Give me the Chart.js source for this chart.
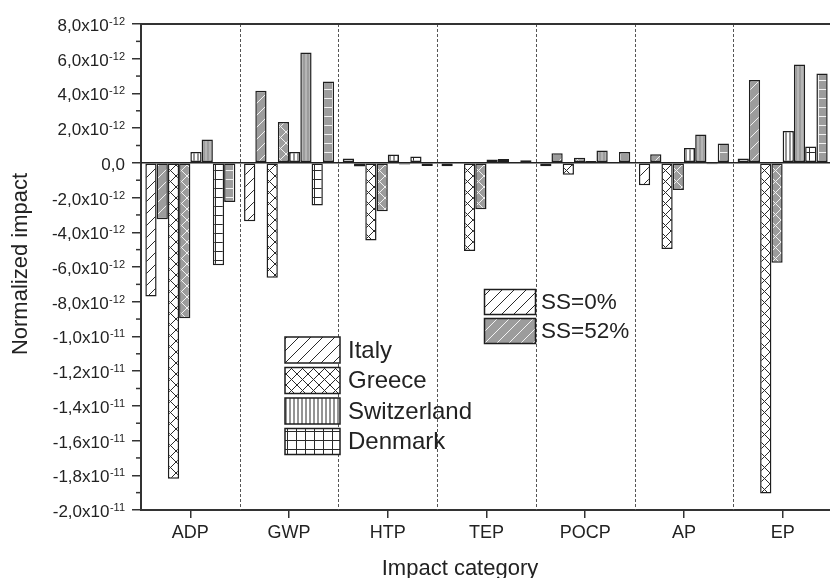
<!DOCTYPE html>
<html>
<head>
<meta charset="utf-8">
<script src="https://cdn.jsdelivr.net/npm/chart.js@4.4.1/dist/chart.umd.min.js"></script>
<style>
    html, body { margin: 0; padding: 0; background: #fff; overflow: hidden; }
    #wrap { width: 830px; height: 578px; overflow: hidden; }
</style>
</head>
<body>
<div id="wrap"><canvas id="impactChart" width="840" height="578"></canvas></div>
<script>
const categories = ['ADP', 'GWP', 'HTP', 'TEP', 'POCP', 'AP', 'EP'];
const countries = ['Italy', 'Greece', 'Switzerland', 'Denmark'];
const scenarios = ['SS=0%', 'SS=52%'];

// normalized impact per category (ADP, GWP, HTP, TEP, POCP, AP, EP)
const italySS0 = [-7.7e-12, -3.37e-12, 0.25e-12, -0.2e-12, -0.2e-12, -1.29e-12, 0.25e-12];
const italySS52 = [-3.25e-12, 4.15e-12, -0.21e-12, 0.03e-12, 0.55e-12, 0.5e-12, 4.77e-12];
const greeceSS0 = [-18.2e-12, -6.62e-12, -4.47e-12, -5.08e-12, -0.68e-12, -4.97e-12, -19.05e-12];
const greeceSS52 = [-8.95e-12, 2.36e-12, -2.79e-12, -2.68e-12, 0.3e-12, -1.56e-12, -5.75e-12];
const swissSS0 = [0.63e-12, 0.63e-12, 0.48e-12, 0.19e-12, 0.1e-12, 0.86e-12, 1.84e-12];
const swissSS52 = [1.34e-12, 6.36e-12, -0.1e-12, 0.22e-12, 0.71e-12, 1.63e-12, 5.67e-12];
const denmarkSS0 = [-5.9e-12, -2.45e-12, 0.36e-12, 0.05e-12, -0.04e-12, -0.08e-12, 0.94e-12];
const denmarkSS52 = [-2.26e-12, 4.69e-12, -0.18e-12, 0.15e-12, 0.63e-12, 1.11e-12, 5.15e-12];

const yTickValues = [-2.0e-11, -1.8e-11, -1.6e-11, -1.4e-11, -1.2e-11, -1.0e-11,
    -8e-12, -6e-12, -4e-12, -2e-12, 0, 2e-12, 4e-12, 6e-12, 8e-12];
const yTickMantissa = ['-2,0x10', '-1,8x10', '-1,6x10', '-1,4x10', '-1,2x10', '-1,0x10',
    '-8,0x10', '-6,0x10', '-4,0x10', '-2,0x10', '0,0', '2,0x10', '4,0x10', '6,0x10', '8,0x10'];
const yTickExponent = ['-11', '-11', '-11', '-11', '-11', '-11',
    '-12', '-12', '-12', '-12', '', '-12', '-12', '-12', '-12'];

const FONT = '"Liberation Sans", Arial, sans-serif';
Chart.defaults.font.family = FONT;

// hatch patterns
const TILE = { diag: 12, cross: 11, vert: 4, grid: 9 };

function makePattern(kind, bg, fg) {
    const s = TILE[kind];
    const c = document.createElement('canvas');
    c.width = s;
    c.height = s;
    const g = c.getContext('2d');
    g.fillStyle = bg;
    g.fillRect(0, 0, s, s);
    g.strokeStyle = fg;
    g.lineWidth = 1;
    g.beginPath();
    if (kind === 'diag' || kind === 'cross') {
        [-s, 0, s].forEach(k => { g.moveTo(k, s); g.lineTo(k + s, 0); });
    }
    if (kind === 'cross') {
        [-s, 0, s].forEach(k => { g.moveTo(k, 0); g.lineTo(k + s, s); });
    }
    if (kind === 'vert') {
        g.moveTo(s / 2, 0); g.lineTo(s / 2, s);
    }
    if (kind === 'grid') {
        g.moveTo(0, s - 0.5); g.lineTo(s, s - 0.5);
        g.moveTo(s - 0.5, 0); g.lineTo(s - 0.5, s);
    }
    g.stroke();
    return g.createPattern(c, 'repeat');
}

const kinds = ['diag', 'cross', 'vert', 'grid'];
const whitePatterns = kinds.map(k => makePattern(k, '#ffffff', '#2a2a2a'));
const grayPatterns = kinds.map(k => makePattern(k, '#9c9c9c', k === 'vert' ? '#cfcfcf' : '#f2f2f2'));

const seriesData = [italySS0, italySS52, greeceSS0, greeceSS52, swissSS0, swissSS52, denmarkSS0, denmarkSS52];

const datasets = seriesData.map((values, i) => {
    const country = Math.floor(i / 2);
    const ss = i % 2;
    return {
        label: countries[country] + ' ' + scenarios[ss],
        data: values,
        backgroundColor: ss === 0 ? whitePatterns[country] : grayPatterns[country],
        borderColor: '#1e1e1e',
        borderWidth: 1.5,
        borderSkipped: false
    };
});

const decorPlugin = {
    id: 'decor',
    beforeDatasetsDraw(chart) {
        const { ctx, chartArea, scales } = chart;
        const x = scales.x;
        ctx.save();
        ctx.strokeStyle = '#555';
        ctx.lineWidth = 1;
        ctx.setLineDash([3, 2]);
        for (let i = 0; i < categories.length - 1; i++) {
            const px = Math.round((x.getPixelForValue(i) + x.getPixelForValue(i + 1)) / 2) + 0.5;
            ctx.beginPath();
            ctx.moveTo(px, chartArea.top);
            ctx.lineTo(px, chartArea.bottom);
            ctx.stroke();
        }
        ctx.restore();
    },
    afterDatasetsDraw(chart) {
        const { ctx, chartArea, scales } = chart;
        const y0 = scales.y.getPixelForValue(0);
        ctx.save();
        ctx.strokeStyle = '#222';
        ctx.lineWidth = 1.5;
        ctx.beginPath();
        ctx.moveTo(chartArea.left, y0);
        ctx.lineTo(chartArea.right, y0);
        ctx.stroke();
        ctx.restore();
    },
    afterDraw(chart) {
        const { ctx, chartArea, scales } = chart;
        const y = scales.y;
        ctx.save();

        // top frame
        ctx.strokeStyle = '#333';
        ctx.lineWidth = 2;
        ctx.beginPath();
        ctx.moveTo(chartArea.left, chartArea.top);
        ctx.lineTo(chartArea.right, chartArea.top);
        ctx.stroke();

        // minor ticks
        ctx.lineWidth = 1.5;
        for (let i = 0; i < yTickValues.length - 1; i++) {
            const py = y.getPixelForValue((yTickValues[i] + yTickValues[i + 1]) / 2);
            ctx.beginPath();
            ctx.moveTo(chartArea.left - 5, py);
            ctx.lineTo(chartArea.left, py);
            ctx.stroke();
        }

        // y tick labels with superscript exponent
        ctx.fillStyle = '#222';
        ctx.textAlign = 'right';
        ctx.textBaseline = 'alphabetic';
        yTickValues.forEach((v, i) => {
            const py = y.getPixelForValue(v);
            let px = chartArea.left - 16;
            const exp = yTickExponent[i];
            if (exp) {
                ctx.font = '11px ' + FONT;
                ctx.fillText(exp, px, py + 1);
                px -= ctx.measureText(exp).width + 0.5;
            }
            ctx.font = '17px ' + FONT;
            ctx.fillText(yTickMantissa[i], px, py + 7);
        });

        // axis titles
        ctx.font = '22px ' + FONT;
        ctx.textAlign = 'center';
        ctx.fillText('Impact category', 460, 575);
        ctx.save();
        ctx.translate(27, 264);
        ctx.rotate(-Math.PI / 2);
        ctx.fillText('Normalized impact', 0, 0);
        ctx.restore();

        // country legend
        ctx.lineWidth = 1.5;
        ctx.strokeStyle = '#1e1e1e';
        ctx.textAlign = 'left';
        ctx.textBaseline = 'middle';
        ctx.font = '24px ' + FONT;
        countries.forEach((name, i) => {
            const top = 337 + i * 30.5;
            ctx.fillStyle = whitePatterns[i];
            ctx.fillRect(285, top, 55, 26);
            ctx.strokeRect(285, top, 55, 26);
            ctx.fillStyle = '#222';
            ctx.fillText(name, 348, top + 14);
        });

        // scenario legend
        ctx.font = '22.5px ' + FONT;
        scenarios.forEach((name, i) => {
            const top = 289.5 + i * 29;
            ctx.fillStyle = i === 0 ? whitePatterns[0] : grayPatterns[0];
            ctx.fillRect(484.5, top, 51, 25);
            ctx.strokeRect(484.5, top, 51, 25);
            ctx.fillStyle = '#222';
            ctx.fillText(name, 541, top + 13.5);
        });

        ctx.restore();
    }
};

new Chart(document.getElementById('impactChart'), {
    type: 'bar',
    data: { labels: categories, datasets: datasets },
    options: {
        responsive: false,
        animation: false,
        layout: { padding: { top: 24, right: 8, bottom: 0, left: 0 } },
        datasets: { bar: { barPercentage: 1, categoryPercentage: 0.912 } },
        plugins: { legend: { display: false }, tooltip: { enabled: false } },
        scales: {
            x: {
                offset: true,
                grid: { offset: false, drawOnChartArea: false, drawTicks: true, tickLength: 8, color: '#333', lineWidth: 1.5 },
                border: { display: true, color: '#333', width: 2 },
                ticks: { color: '#222', font: { size: 18 }, padding: 4 },
                afterFit(scale) { scale.height = 68; }
            },
            y: {
                min: -2.0e-11,
                max: 8e-12,
                grid: { drawOnChartArea: false, drawTicks: true, tickLength: 9, color: '#333', lineWidth: 1.5 },
                border: { display: true, color: '#333', width: 2 },
                ticks: { display: false },
                afterBuildTicks(scale) { scale.ticks = yTickValues.map(v => ({ value: v })); },
                afterFit(scale) { scale.width = 141; }
            }
        }
    },
    plugins: [decorPlugin]
});
</script>
</body>
</html>
